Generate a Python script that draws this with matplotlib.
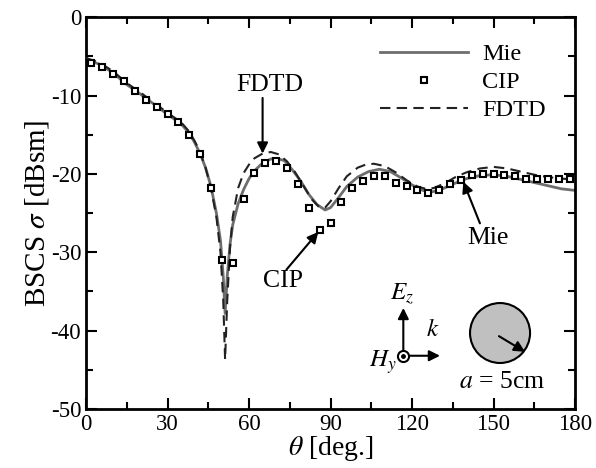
import numpy as np
import matplotlib
matplotlib.use('Agg')
import matplotlib.pyplot as plt
from matplotlib.patches import Ellipse

plt.rcParams['font.family'] = ['Liberation Serif', 'DejaVu Serif']
plt.rcParams['mathtext.fontset'] = 'stix'
plt.rcParams['axes.unicode_minus'] = False

# Mie (exact) solution
mie_theta = [0, 5, 10, 15, 20, 25, 30, 35, 38, 40, 42, 44, 46, 48, 49.5, 50.5, 51.2,
             52, 53, 54, 56, 58, 60, 62, 65, 68, 70, 73, 76, 79, 82, 85, 88, 90, 93,
             96, 100, 104, 108, 112, 116, 120, 124, 127, 130, 135, 140, 145, 150, 155,
             160, 165, 170, 175, 180]
mie_val = [-5.4, -6.0, -7.1, -8.6, -9.8, -11.1, -12.4, -13.6, -14.8, -16.0, -17.4, -19.2,
           -21.6, -25.0, -28.5, -33.0, -37.8, -33.0, -29.0, -26.5, -23.8, -22.0, -20.6,
           -19.6, -18.6, -18.1, -18.0, -18.3, -19.5, -20.9, -22.6, -23.9, -24.6, -24.3,
           -23.0, -21.6, -20.4, -19.7, -19.4, -19.7, -20.5, -21.4, -22.1, -22.3, -22.1,
           -21.3, -20.6, -20.2, -20.1, -20.3, -20.7, -21.1, -21.5, -21.9, -22.1]

# FDTD result
fdtd_theta = [0, 5, 10, 15, 20, 25, 30, 35, 38, 40, 42, 44, 46, 48, 49.5, 50.5, 51.2,
              52, 53, 54, 56, 58, 60, 62, 65, 68, 71, 74, 77, 80, 83, 86, 88, 90, 93,
              96, 100, 103, 106, 110, 114, 118, 122, 125, 128, 132, 136, 140, 145, 150,
              155, 160, 165, 170, 175, 180]
fdtd_val = [-5.2, -5.8, -6.9, -8.4, -9.6, -10.9, -12.2, -13.4, -14.6, -15.8, -17.2, -19.2,
            -21.8, -25.5, -30.0, -36.0, -43.7, -36.0, -29.5, -25.5, -21.8, -19.9, -18.8,
            -18.0, -17.4, -17.2, -17.5, -18.4, -19.8, -21.5, -23.2, -24.3, -24.3, -23.5,
            -21.8, -20.3, -19.2, -18.8, -18.7, -19.0, -19.8, -20.8, -21.6, -21.9, -21.8,
            -21.2, -20.4, -19.8, -19.3, -19.1, -19.3, -19.7, -20.1, -20.4, -20.6, -20.7]

# CIP result, every 4 degrees
cip_theta = list(range(2, 179, 4))
cip_val = [-5.9, -6.3, -7.2, -8.2, -9.4, -10.5, -11.4, -12.4, -13.4, -15.0, -17.5, -21.8,
           -31.0, -31.4, -23.2, -19.9, -18.6, -18.4, -19.3, -21.3, -24.4, -27.2, -26.2,
           -23.6, -21.8, -20.9, -20.3, -20.3, -21.1, -21.6, -22.1, -22.4, -22.1, -21.3,
           -20.8, -20.1, -20.0, -20.0, -20.1, -20.3, -20.6, -20.6, -20.6, -20.6, -20.6]

fig = plt.figure(figsize=(5.96, 4.68), dpi=100)
ax = fig.add_axes([0.1443, 0.126, 0.8205, 0.8372])

ax.plot(mie_theta, mie_val, color='#6e6e6e', lw=2.0, label='Mie', zorder=2)
ax.plot(cip_theta, cip_val, ls='none', marker='s', ms=4.8, mfc='white', mec='black',
        mew=1.5, label='CIP', zorder=4)
ax.plot(fdtd_theta, fdtd_val, color='#222222', lw=1.5, ls=(0, (5, 3)), label='FDTD', zorder=3)

ax.set_xlim(0, 180)
ax.set_ylim(-50, 0)
ax.set_xticks(np.arange(0, 181, 30))
ax.set_xticks(np.arange(15, 180, 30), minor=True)
ax.set_yticks(np.arange(-50, 1, 10))
ax.set_yticks(np.arange(-45, 0, 10), minor=True)
ax.tick_params(which='both', direction='in', top=True, right=True, labelsize=16.5, width=1.5)
ax.tick_params(which='major', length=8)
ax.tick_params(which='minor', length=5)
for s in ax.spines.values():
    s.set_linewidth(2)

ax.set_xlabel(r'$\theta$ [deg.]', fontsize=20, labelpad=-1)
ax.set_ylabel(r'BSCS $\sigma$ [dBsm]', fontsize=21, labelpad=0)

leg = ax.legend(loc='upper right', frameon=False, fontsize=17.5, handlelength=3.6,
                handletextpad=0.6, labelspacing=0.25, bbox_to_anchor=(0.985, 0.99))

arrow = dict(arrowstyle='-|>', color='black', lw=1.5, mutation_scale=16, shrinkA=0, shrinkB=0)
ax.annotate('', xy=(65.0, -17.4), xytext=(65.0, -10.3), arrowprops=arrow)
ax.text(67.7, -8.6, 'FDTD', fontsize=18.5, ha='center', va='center')
ax.annotate('', xy=(85.5, -27.4), xytext=(73.8, -32.2), arrowprops=arrow)
ax.text(72.5, -33.7, 'CIP', fontsize=18.5, ha='center', va='center')
ax.annotate('', xy=(138.9, -21.0), xytext=(145.0, -26.3), arrowprops=arrow)
ax.text(148.1, -28.2, 'Mie', fontsize=18.5, ha='center', va='center')

# incident wave sketch
ax.annotate('', xy=(116.8, -37.1), xytext=(116.8, -42.6), arrowprops=arrow)
ax.annotate('', xy=(130.3, -43.2), xytext=(118.2, -43.2), arrowprops=arrow)
ax.plot([116.8], [-43.2], marker='o', ms=8, mfc='white', mec='black', mew=1.5, zorder=5)
ax.plot([116.8], [-43.2], marker='o', ms=2.5, color='black', zorder=6)
ax.text(116.2, -35.4, r'$E_z$', fontsize=18, ha='center', va='center')
ax.text(127.7, -39.9, r'$k$', fontsize=18, ha='center', va='center')
ax.text(114.5, -44.0, r'$H_y$', fontsize=18, ha='right', va='center')

# cylinder
ax.add_patch(Ellipse((152.4, -40.3), 22.1, 7.65, facecolor='#c0c0c0', edgecolor='black',
                     lw=1.5, zorder=3))
ax.annotate('', xy=(161.6, -42.7), xytext=(152.0, -40.7), arrowprops=arrow, zorder=4)
ax.text(153.0, -46.6, r'$a$ = 5cm', fontsize=18.5, ha='center', va='center')

fig.savefig('out.png', dpi=100)
